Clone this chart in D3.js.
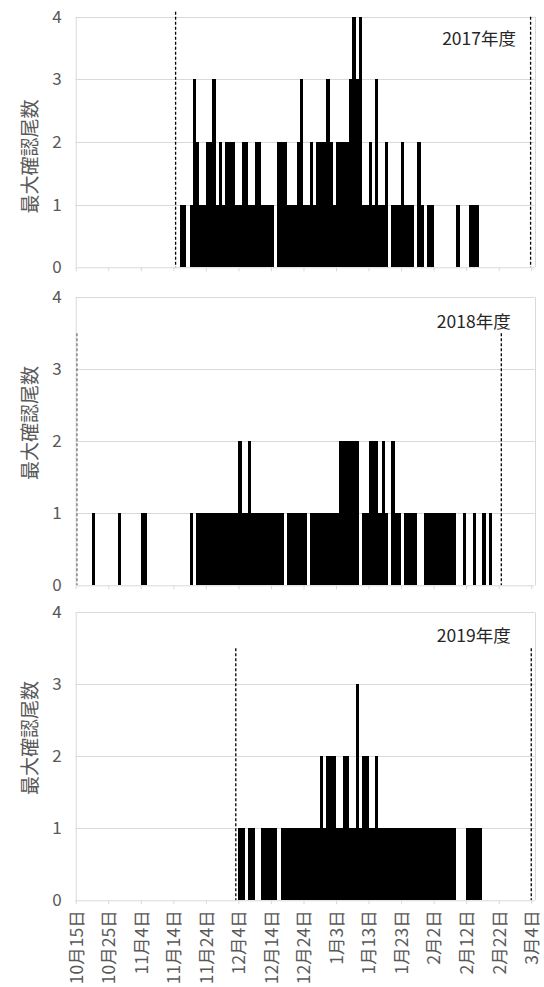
<!DOCTYPE html>
<html>
<head>
<meta charset="utf-8">
<script src="https://cdn.jsdelivr.net/npm/d3@7/dist/d3.min.js"></script>
<style>
  html, body { margin: 0; padding: 0; background: #fff; }
  svg { display: block; }
  text { font-family: "Noto Sans CJK JP", "Noto Sans", sans-serif; }
</style>
</head>
<body>
<div id="chart"></div>
<script>
// Daily maximum counts, one value per day starting 10月15日 (day 0)
const seasons = ["2017年度", "2018年度", "2019年度"];

const counts2017 = [
  0,0,0,0,0,0,0,0,0,0,
  0,0,0,0,0,0,0,0,0,0,
  0,0,0,0,0,0,0,0,0,0,
  0,0,1,1,0,1,3,2,1,1,
  2,2,3,1,2,1,2,2,2,1,
  1,2,2,1,1,2,2,1,1,1,
  1,0,2,2,2,1,1,1,2,3,
  1,1,2,1,2,2,2,3,2,1,
  2,2,2,2,3,4,3,4,1,1,
  2,1,3,1,1,2,0,1,1,1,
  2,1,1,1,0,2,1,0,1,1,
  0,0,0,0,0,0,0,1,0,0,
  0,1,1,1,0,0,0,0,0,0,
  0,0,0,0,0,0,0,0,0,0
];

const counts2018 = [
  0,0,0,0,0,1,0,0,0,0,
  0,0,0,1,0,0,0,0,0,0,
  1,1,0,0,0,0,0,0,0,0,
  0,0,0,0,0,1,0,1,1,1,
  1,1,1,1,1,1,1,1,1,1,
  2,1,1,2,1,1,1,1,1,1,
  1,1,1,1,0,1,1,1,1,1,
  1,0,1,1,1,1,1,1,1,1,
  1,2,2,2,2,2,2,0,1,1,
  2,2,2,1,2,1,0,2,1,1,
  0,1,1,1,1,0,0,1,1,1,
  1,1,1,1,1,1,1,0,0,1,
  0,0,1,0,0,1,0,1,0,0,
  0,0,0,0,0,0,0,0,0,0
];

const counts2019 = [
  0,0,0,0,0,0,0,0,0,0,
  0,0,0,0,0,0,0,0,0,0,
  0,0,0,0,0,0,0,0,0,0,
  0,0,0,0,0,0,0,0,0,0,
  0,0,0,0,0,0,0,0,0,0,
  1,1,0,1,1,0,0,1,1,1,
  1,1,0,1,1,1,1,1,1,1,
  1,1,1,1,1,2,1,2,2,2,
  1,1,2,2,1,1,3,1,2,2,
  1,1,2,1,1,1,1,1,1,1,
  1,1,1,1,1,1,1,1,1,1,
  1,1,1,1,1,1,1,0,0,0,
  1,1,1,1,1,0,0,0,0,0,
  0,0,0,0,0,0,0,0,0,0
];

// Season boundary markers: day index and the value the dashed line reaches
const markerDays2017 = [30.7, 139.8];
const markerTops2017 = [4.08, 4.0];
const markerDays2018 = [0.3, 130.8];
const markerTops2018 = [3.5, 3.5];
const markerDays2019 = [49.2, 140.0];
const markerTops2019 = [3.5, 3.5];

const tickDays = [0,10,20,30,40,50,60,70,80,90,100,110,120,130,140];
const tickLabels = ["10月15日","10月25日","11月4日","11月14日","11月24日","12月4日",
  "12月14日","12月24日","1月3日","1月13日","1月23日","2月2日","2月12日","2月22日","3月4日"];
const yTicks = [0,1,2,3,4];
const yTitle = "最大確認尾数";

const seriesList = [counts2017, counts2018, counts2019];
const markerDaysList = [markerDays2017, markerDays2018, markerDays2019];
const markerTopsList = [markerTops2017, markerTops2018, markerTops2019];

// Panel geometry
const W = 544, H = 987;
const plotLeft = 75.7, plotRight = 534.5;
const layout = [
  { top: 16.7,  bottom: 267.3, titleY: 156.5, labelX: 516,   labelY: 39 },
  { top: 297.3, bottom: 585.3, titleY: 423,   labelX: 510.7, labelY: 322 },
  { top: 612.3, bottom: 900.3, titleY: 738,   labelX: 510.7, labelY: 636 }
];

const svg = d3.select("#chart").append("svg")
  .attr("width", W).attr("height", H);

const x = d3.scaleLinear().domain([0, 141]).range([plotLeft, plotRight]);

layout.forEach((p, k) => {
  const y = d3.scaleLinear().domain([0, 4]).range([p.bottom, p.top]);
  const g = svg.append("g");

  // horizontal gridlines
  g.selectAll("line.grid").data(yTicks.filter(v => v > 0)).join("line")
    .attr("class", "grid")
    .attr("x1", plotLeft).attr("x2", plotRight)
    .attr("y1", d => Math.round(y(d)) + 0.5).attr("y2", d => Math.round(y(d)) + 0.5)
    .attr("stroke", "#d9d9d9").attr("stroke-width", 1);

  // plot-area right edge
  g.append("line")
    .attr("x1", Math.round(plotRight) + 0.5).attr("x2", Math.round(plotRight) + 0.5)
    .attr("y1", p.top).attr("y2", p.bottom)
    .attr("stroke", "#d9d9d9");

  // daily bars
  const data = seriesList[k].map((v, i) => ({ day: i, value: v })).filter(d => d.value > 0);
  g.selectAll("rect.bar").data(data).join("rect")
    .attr("class", "bar")
    .attr("x", d => x(d.day))
    .attr("width", d => x(d.day + 1) - x(d.day))
    .attr("y", d => y(d.value))
    .attr("height", d => y(0) - y(d.value))
    .attr("fill", "#000")
    .attr("shape-rendering", "crispEdges");

  // dashed season markers
  const md = markerDaysList[k].map((d, i) => ({ day: d, top: markerTopsList[k][i] }));
  g.selectAll("line.marker").data(md).join("line")
    .attr("class", "marker")
    .attr("x1", d => x(d.day)).attr("x2", d => x(d.day))
    .attr("y1", d => y(d.top)).attr("y2", y(0))
    .attr("stroke", "#000").attr("stroke-width", 1.3)
    .attr("stroke-dasharray", "3,2");

  // y axis
  const yAxis = d3.axisLeft(y).tickValues(yTicks).tickSize(0).tickPadding(14)
    .tickFormat(d3.format("d"));
  const ya = g.append("g").attr("transform", `translate(${plotLeft},0)`).call(yAxis);
  ya.select(".domain").attr("stroke", "#d9d9d9");
  ya.selectAll("text")
    .attr("fill", "#595959")
    .style("font-size", "17px");

  // x axis
  const xAxis = d3.axisBottom(x).tickValues(tickDays).tickSize(4)
    .tickFormat((d, i) => tickLabels[i]);
  const xa = g.append("g").attr("transform", `translate(0,${p.bottom})`).call(xAxis);
  xa.select(".domain").attr("stroke", "#d9d9d9").attr("d", `M${plotLeft},0.5H${plotRight}`);
  xa.selectAll(".tick line").attr("stroke", "#d9d9d9");
  if (k === layout.length - 1) {
    xa.selectAll("text")
      .attr("fill", "#595959")
      .style("font-size", "17.5px")
      .attr("text-anchor", "end")
      .attr("transform", "translate(0,10) rotate(-90)")
      .attr("x", 0).attr("y", 0).attr("dy", "0.36em");
  } else {
    xa.selectAll("text").remove();
  }

  // axis title
  g.append("text")
    .attr("transform", `translate(30,${p.titleY}) rotate(-90)`)
    .attr("text-anchor", "middle")
    .attr("dy", "0.36em")
    .attr("fill", "#595959")
    .style("font-size", "19px")
    .text(yTitle);

  // season label
  g.append("text")
    .attr("x", p.labelX).attr("y", p.labelY)
    .attr("text-anchor", "end")
    .attr("dy", "0.36em")
    .attr("fill", "#262626")
    .style("font-size", "17.5px")
    .text(seasons[k]);
});
</script>
</body>
</html>
